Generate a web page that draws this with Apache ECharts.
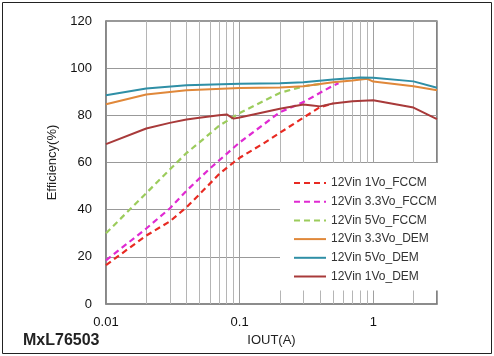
<!DOCTYPE html>
<html>
<head>
<meta charset="utf-8">
<script src="https://cdn.jsdelivr.net/npm/echarts@6/dist/echarts.min.js"></script>
<style>html,body{margin:0;padding:0;background:#fff;}#c{width:494px;height:356px;}</style>
</head>
<body>
<div id="c"></div>
<script>
const names = ['12Vin 1Vo_FCCM','12Vin 3.3Vo_FCCM','12Vin 5Vo_FCCM','12Vin 3.3Vo_DEM','12Vin 5Vo_DEM','12Vin 1Vo_DEM'];
const fccm1X = [0.01,0.02,0.03,0.04,0.05,0.07,0.09,0.1,0.15,0.2,0.3,0.4,0.5];
const fccm1Y = [16.5,29,35,41,46.5,55,60,62,68,72.6,79,83.5,85];
const fccm33X = [0.01,0.02,0.03,0.04,0.06,0.1,0.2,0.3,0.5,0.55];
const fccm33Y = [18.5,32,40.5,48,57.5,68.5,81.3,85.6,92.6,93.6];
const fccm5X = [0.01,0.02,0.03,0.04,0.05,0.07,0.1,0.2,0.3,0.4];
const fccm5Y = [30,47,57,64,68.5,75.5,81,89.5,92.3,93.3];
const dem33X = [0.01,0.02,0.04,0.1,0.2,0.3,0.5,0.7,0.9,1,2,3];
const dem33Y = [84.7,88.8,90.6,91.6,91.8,92.3,94,94.8,95.5,94.3,92.3,90.6];
const dem5X = [0.01,0.02,0.04,0.1,0.2,0.3,0.5,0.8,1,2,3];
const dem5Y = [88.5,91.4,92.8,93.4,93.6,94,95.2,96,95.9,94.4,91.7];
const dem1X = [0.01,0.02,0.03,0.04,0.05,0.07,0.08,0.09,0.1,0.2,0.3,0.35,0.4,0.5,0.7,1,2,3];
const dem1Y = [67.8,74.4,76.8,78.2,79,80,80.4,78.6,79.1,82.8,84.6,84.2,83.8,85,86,86.4,83.3,78.4];
const minorTicks = [0.02,0.03,0.04,0.05,0.06,0.07,0.08,0.09,0.2,0.3,0.4,0.5,0.6,0.7,0.8,0.9,2];
const colors = ['#e82a22','#e02ad2','#9ccc5c','#e0883a','#2f8fa6','#a83a3a'];
const dashed = [true,true,true,false,false,false];
const xsList = [fccm1X,fccm33X,fccm5X,dem33X,dem5X,dem1X];
const ysList = [fccm1Y,fccm33Y,fccm5Y,dem33Y,dem5Y,dem1Y];

const font = '"Liberation Sans", Arial, sans-serif';
const series = names.map((n,i)=>{
  const s = {
    name:n, type:'line', showSymbol:false, symbol:'none', smooth:false,
    data: xsList[i].map((x,j)=>[x, ysList[i][j]]),
    lineStyle:{color:colors[i], width: dashed[i]?2.2:2, type: dashed[i]?[6,4]:'solid'},
    itemStyle:{color:colors[i]},
    z: dashed[i]?3:4
  };
  if(i===0){
    s.markLine = {silent:true, symbol:['none','none'], label:{show:false}, animation:false,
      lineStyle:{type:'solid', color:'#b5b5b5', width:1},
      data: minorTicks.map(v=>({xAxis:v})), z:1};
  }
  return s;
});

const chart = echarts.init(document.getElementById('c'));
chart.setOption({
  animation:false,
  backgroundColor:'#fff',
  grid:{left:106, right:57, top:21, bottom:52, show:true, borderColor:'#333', borderWidth:1.2},
  xAxis:{type:'log', logBase:10, min:0.01, max:3,
    axisLine:{show:true, lineStyle:{color:'#888', width:1.5}},
    axisTick:{show:false},
    axisLabel:{fontFamily:font, fontSize:13, color:'#111', margin:12, showMaxLabel:false,
      formatter:v=>String(v)},
    splitLine:{show:true, lineStyle:{color:'#a0a0a0', width:1}},
    name:'IOUT(A)', nameLocation:'middle', nameGap:27,
    nameTextStyle:{fontFamily:font, fontSize:13, color:'#222'}},
  yAxis:{type:'value', min:0, max:120, interval:20,
    axisLine:{show:true, lineStyle:{color:'#888', width:1.5}},
    axisTick:{show:false},
    axisLabel:{fontFamily:font, fontSize:13, color:'#111', margin:14},
    splitLine:{show:true, lineStyle:{color:'#999', width:1}},
    name:'Efficiency(%)', nameLocation:'middle', nameGap:35,
    nameTextStyle:{fontFamily:font, fontSize:13, color:'#222'}},
  legend:{orient:'vertical', left:280, top:163, padding:[14,12,8,13],
    backgroundColor:'#fff', itemWidth:32, itemHeight:14, itemGap:6.7,
    itemStyle:{opacity:0},
    textStyle:{fontFamily:font, fontSize:12, color:'#333'},
    data:names},
  graphic:[
    {type:'rect', shape:{x:2.5, y:2.5, width:489, height:351}, style:{fill:'none', stroke:'#222', lineWidth:1}, z:10},
    {type:'text', left:23, top:333, style:{text:'MxL76503', font:'bold 16px '+font, fill:'#222'}, z:10}
  ],
  series:series
});
</script>
</body>
</html>
